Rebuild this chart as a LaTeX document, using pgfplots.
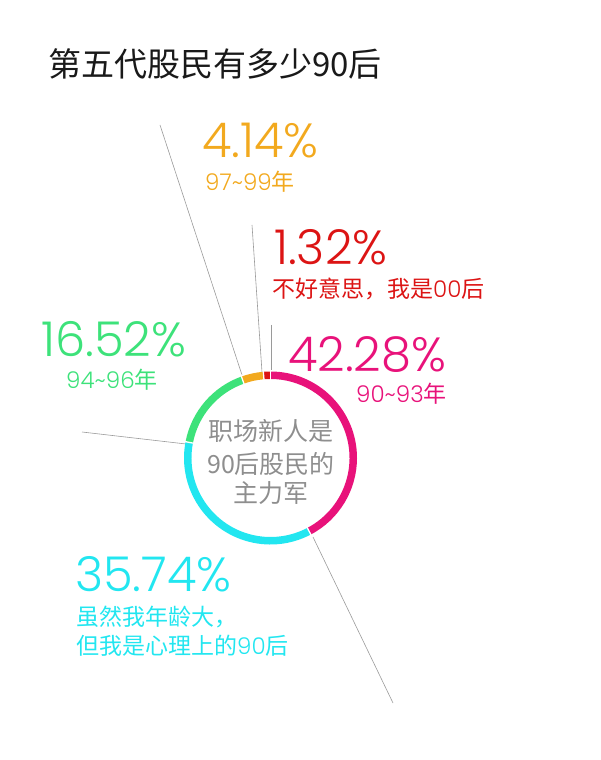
\documentclass[border=0pt]{standalone}
\usepackage{pgfplots}
\pgfplotsset{compat=1.18}
\usepackage{pgfplotstable}
\usepackage{fontspec}
\setmainfont{Noto Sans CJK SC}
\newfontfamily\numfont{Poppins Light}

\definecolor{cMag}{HTML}{E8127A}
\definecolor{cCyan}{HTML}{22E6F0}
\definecolor{cGreen}{HTML}{3DE27A}
\definecolor{cOrange}{HTML}{F2A91E}
\definecolor{cRed}{HTML}{DC1414}
\definecolor{txtgray}{HTML}{8E8E8E}
\definecolor{linegray}{HTML}{9A9A9A}

% share of each cohort, clockwise from 12 o'clock
\pgfplotstableread{
value col
42.28 cMag
35.74 cCyan
16.52 cGreen
4.14 cOrange
1.32 cRed
}\ringdata

\newcommand\pct[2]{{\color{#1}\fontsize{48}{48}\numfont #2}}
\newcommand\sub[2]{{\color{#1}\fontsize{23}{28}\selectfont #2}}
\newcommand\dg[1]{{\numfont #1}}
\tikzset{pctnode/.style={anchor=base west, inner sep=0pt, text depth=0pt},
         subnode/.style={anchor=base west, inner sep=0pt, text height=18pt}}

\begin{document}
\begin{tikzpicture}
\begin{axis}[
    x=1pt, y=1pt,
    xmin=0, xmax=601, ymin=0, ymax=760,
    hide axis, clip=false,
  ]
  \pgfplotsextra{
    \path (axis cs:0,0) rectangle (axis cs:601,760);
    % leader lines
    \draw[linegray, line width=0.6pt] (axis cs:160,635) -- (axis cs:242,385);
    \draw[linegray, line width=0.6pt] (axis cs:252,535) -- (axis cs:262,388);
    \draw[linegray, line width=0.6pt] (axis cs:271,435) -- (axis cs:271,390);
    \draw[linegray, line width=0.6pt] (axis cs:82,328) -- (axis cs:186,316);
    \draw[linegray, line width=0.6pt] (axis cs:313,223) -- (axis cs:393,57);
    % ring
    \xdef\startang{90}
    \foreach \i in {0,...,4}{
      \pgfplotstablegetelem{\i}{value}\of\ringdata \let\segval\pgfplotsretval
      \pgfplotstablegetelem{\i}{col}\of\ringdata \let\segcol\pgfplotsretval
      \pgfmathsetmacro\endang{\startang-3.6*\segval}
      \fill[fill=\segcol, shift={(axis cs:270.5,302)}]
        (\startang:86.5pt) arc[start angle=\startang, end angle=\endang, radius=86.5pt]
        -- (\endang:79pt) arc[start angle=\endang, end angle=\startang, radius=79pt] -- cycle;
      \xdef\startang{\endang}
    }
    \foreach \a in {90,-62.208,-190.872,-250.344,-265.248}{
      \draw[white, line width=1.3pt, shift={(axis cs:270.5,302)}] (\a:77pt) -- (\a:89pt);
    }
    % title
    \node[anchor=base west, inner sep=0pt, text=black!90]
      at (axis cs:48,683) {\fontsize{33}{33}\selectfont 第五代股民有多少90后};
    % centre text
    \node[anchor=base, inner sep=0pt, text=txtgray] at (axis cs:271,319)
      {\fontsize{25}{25}\selectfont 职场新人是};
    \node[anchor=base, inner sep=0pt, text=txtgray] at (axis cs:271,286)
      {\fontsize{25}{25}\selectfont 90后股民的};
    \node[anchor=base, inner sep=0pt, text=txtgray] at (axis cs:271,257)
      {\fontsize{25}{25}\selectfont 主力军};
    % labels
    \node[pctnode] at (axis cs:202,602) {\pct{cOrange}{4.14\%}};
    \node[subnode] at (axis cs:205,569) {\sub{cOrange}{\dg{97\textasciitilde99}年}};
    \node[pctnode] at (axis cs:274,495) {\pct{cRed}{1.32\%}};
    \node[subnode] at (axis cs:272,462) {\sub{cRed}{不好意思，我是\dg{00}后}};
    \node[pctnode] at (axis cs:288,388) {\pct{cMag}{42.28\%}};
    \node[subnode] at (axis cs:356,357) {\sub{cMag}{\dg{90\textasciitilde93}年}};
    \node[pctnode] at (axis cs:41,403) {\pct{cGreen}{16.52\%}};
    \node[subnode] at (axis cs:66,371) {\sub{cGreen}{\dg{94\textasciitilde96}年}};
    \node[pctnode] at (axis cs:75,168) {\pct{cCyan}{35.74\%}};
    \node[subnode] at (axis cs:76,134) {\sub{cCyan}{虽然我年龄大，}};
    \node[subnode] at (axis cs:76,105) {\sub{cCyan}{但我是心理上的\dg{90}后}};
  }
\end{axis}
\end{tikzpicture}
\end{document}
